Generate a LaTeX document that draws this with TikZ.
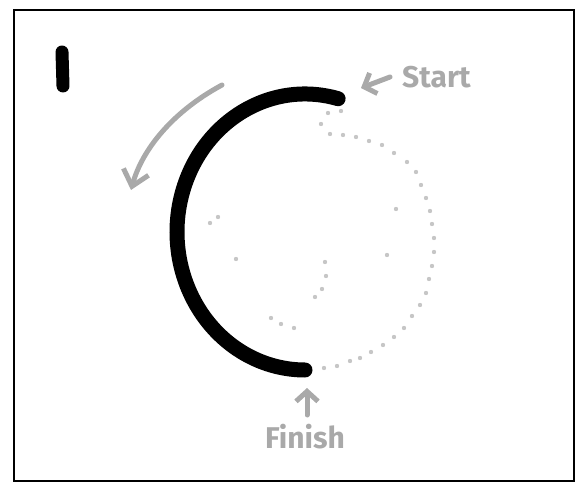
\documentclass[tikz,border=0pt]{standalone}
\usepackage{fontspec}
\setmainfont{Fira Sans}
\usepackage{xcolor}
\usetikzlibrary{arrows.meta}
\definecolor{pengray}{HTML}{A9A9A9}
\definecolor{dotgray}{HTML}{C6C6C6}
\tikzset{
  penline/.style={pengray, line width=5pt, line cap=round, line join=round},
  penlabel/.style={pengray, font=\fontsize{30}{30}\selectfont\bfseries, inner sep=0pt},
}
\begin{document}
\begin{tikzpicture}[x=1pt, y=-1pt, >=stealth]
\useasboundingbox (0,0) rectangle (576,484);
\draw[line width=2.8pt] (14,10) rectangle (574,481);
% step number
\draw[line width=13pt, line cap=round] (62,52) -- (63,86);
\coordinate (C) at (305,232);
% thick arc, counterclockwise
\draw[line width=15pt, line cap=round]
  (C) ++(-75:128 and 138) coordinate (S)
  arc[start angle=-75, end angle=-270, x radius=128, y radius=138] coordinate (F);
% rest of the circle, dotted
\foreach \p in {(341,111),(328,113),(321,124),(330,134),(343,135),(356,137),
    (369,141),(382,145),(394,153),(407,162),(416,172),(421,185),(426,198),
    (430,211),(432,224),(434,238),(434,252),(432,266),(429,279),(426,293),
    (420,305),(412,316),(404,328),(394,337),(383,345),(371,352),(360,358),
    (350,361),(337,366),(324,368)}{
    \fill[dotgray] \p circle (2.2pt);
}
% loose dots inside
\foreach \p in {(210,223),(218,217),(236,259),(325,262),(326,276),(322,289),
    (315,297),(271,318),(281,324),(294,328),(396,209),(387,255)}{
    \fill[dotgray] \p circle (2.2pt);
}
% direction of travel
\coordinate (turnA) at (222,85);
\coordinate (turnB) at (131,190);
\draw[penline, -{Straight Barb[length=15pt, width=26pt]}]
  (turnA) .. controls (172,112) and (142,150) .. (turnB);
% labels
\node[penlabel, anchor=base west] (start) at (402,88) {Start};
\node[penlabel, anchor=base] (finish) at (305,448) {Finish};
\coordinate (startTail) at (390,77);
\coordinate (startTip) at (361,88);
\draw[penline, -{Straight Barb[length=10pt, width=22pt]}] (startTail) -- (startTip);
\coordinate (finishTail) at (307,415);
\coordinate (finishTip) at (307,388);
\draw[penline, -{Straight Barb[length=10pt, width=22pt]}] (finishTail) -- (finishTip);
\end{tikzpicture}
\end{document}
